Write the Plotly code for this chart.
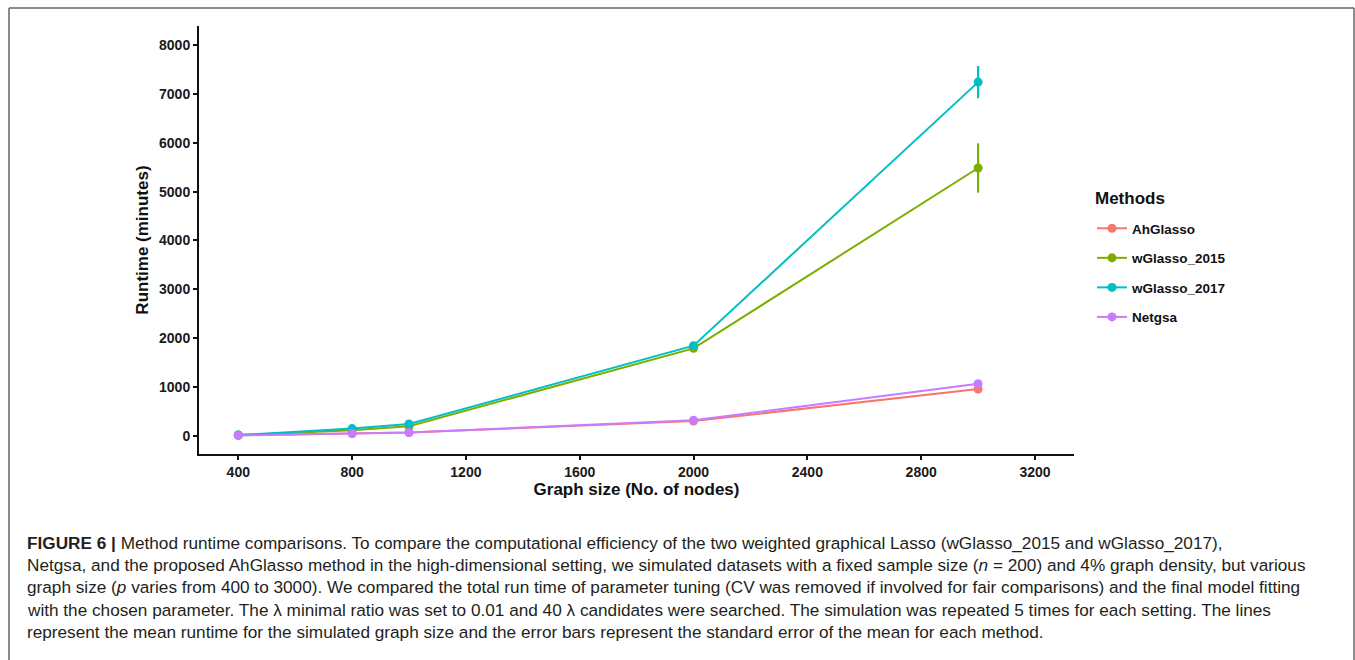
import plotly.graph_objects as go

# ---- data ----
graph_size = [400, 800, 1000, 2000, 3000]
methods = ["AhGlasso", "wGlasso_2015", "wGlasso_2017", "Netgsa"]
runtime_ahglasso = [8, 45, 65, 300, 955]
runtime_wglasso2015 = [12, 110, 195, 1790, 5485]
runtime_wglasso2017 = [14, 145, 240, 1845, 7245]
runtime_netgsa = [6, 45, 65, 318, 1065]
se_ahglasso = [1, 3, 4, 10, 20]
se_wglasso2015 = [2, 8, 12, 40, 505]
se_wglasso2017 = [2, 10, 15, 45, 330]
se_netgsa = [1, 3, 4, 12, 30]
colors = ["#F8766D", "#7CAE00", "#00BFC4", "#C77CFF"]
y_ticks = [0, 1000, 2000, 3000, 4000, 5000, 6000, 7000, 8000]
x_ticks = [400, 800, 1200, 1600, 2000, 2400, 2800, 3200]

caption_lines = [
    "<b>FIGURE 6 |</b> Method runtime comparisons. To compare the computational efficiency of the two weighted graphical Lasso (wGlasso_2015 and wGlasso_2017),",
    "Netgsa, and the proposed AhGlasso method in the high-dimensional setting, we simulated datasets with a fixed sample size (<i>n</i> = 200) and 4% graph density, but various",
    "graph size (<i>p</i> varies from 400 to 3000). We compared the total run time of parameter tuning (CV was removed if involved for fair comparisons) and the final model fitting",
    "with the chosen parameter. The λ minimal ratio was set to 0.01 and 40 λ candidates were searched. The simulation was repeated 5 times for each setting. The lines",
    "represent the mean runtime for the simulated graph size and the error bars represent the standard error of the mean for each method.",
]

W, H = 1355, 660
L, R, T, B = 199, 1074, 26, 454


def px2x(px):
    return (px - L) / (R - L)


def py2y(py):
    return (B - py) / (B - T)


series = [runtime_ahglasso, runtime_wglasso2015, runtime_wglasso2017, runtime_netgsa]
ses = [se_ahglasso, se_wglasso2015, se_wglasso2017, se_netgsa]

fig = go.Figure()
for i, (name, ys, se) in enumerate(zip(methods, series, ses)):
    fig.add_trace(go.Scatter(
        x=graph_size, y=ys, name=name, mode="lines+markers",
        line=dict(color=colors[i], width=2),
        marker=dict(color=colors[i], size=9),
        error_y=dict(type="data", array=se, visible=True, width=0,
                     thickness=2.2, color=colors[i]),
        legendgroup=name,
    ))

FONT = "Liberation Sans, Arial, sans-serif"
axis_font = dict(family=FONT, size=14, color="#1a1a1a")

fig.update_layout(
    width=W, height=H,
    margin=dict(l=L, r=W - R, t=T, b=H - B),
    paper_bgcolor="white", plot_bgcolor="white",
    font=dict(family=FONT),
    showlegend=True,
    legend=dict(
        font=dict(size=13.5, color="#111", family=FONT, weight="bold"),
        x=px2x(1092), y=py2y(213), xanchor="left", yanchor="top",
        tracegroupgap=9, bgcolor="rgba(0,0,0,0)",
    ),
    xaxis=dict(
        range=[262, 3337], tickvals=x_ticks, ticktext=[f"<b>{v}</b>" for v in x_ticks],
        showline=True, linewidth=2, linecolor="#111", showgrid=False, zeroline=False,
        ticks="outside", ticklen=4, tickwidth=1.5, tickcolor="#111",
        tickfont=axis_font,
        title=dict(text="<b>Graph size (No. of nodes)</b>", standoff=4,
                   font=dict(size=17, color="#111")),
    ),
    yaxis=dict(
        range=[-375, 8395], tickvals=y_ticks, ticktext=[f"<b>{v}</b>" for v in y_ticks],
        showline=True, linewidth=2, linecolor="#111", showgrid=False, zeroline=False,
        ticks="outside", ticklen=4, tickwidth=1.5, tickcolor="#111",
        tickfont=axis_font,
        title=dict(text="<b>Runtime (minutes)</b>", standoff=6,
                   font=dict(size=17, color="#111")),
    ),
)

# legend title
fig.add_annotation(text="<b>Methods</b>", xref="paper", yref="paper",
                   x=px2x(1093), y=py2y(198), xanchor="left", yanchor="middle",
                   showarrow=False, font=dict(family=FONT, size=17, color="#111"))

# frame
frame = dict(color="#666", width=1.5)
fig.add_shape(type="line", xref="paper", yref="paper", x0=px2x(9), x1=px2x(1354), y0=py2y(8), y1=py2y(8), line=frame)
fig.add_shape(type="line", xref="paper", yref="paper", x0=px2x(9), x1=px2x(9), y0=py2y(8), y1=py2y(670), line=frame)
fig.add_shape(type="line", xref="paper", yref="paper", x0=px2x(1354), x1=px2x(1354), y0=py2y(8), y1=py2y(670), line=frame)

# caption
baselines = [549, 571, 593, 615.5, 638]
for line, bl in zip(caption_lines, baselines):
    fig.add_annotation(
        text=line, xref="paper", yref="paper", x=px2x(25), y=py2y(bl - 6),
        xanchor="left", yanchor="middle", showarrow=False, align="left",
        font=dict(family=FONT, size=17.2, color="#231f20"),
    )

fig.write_html("out.html")
